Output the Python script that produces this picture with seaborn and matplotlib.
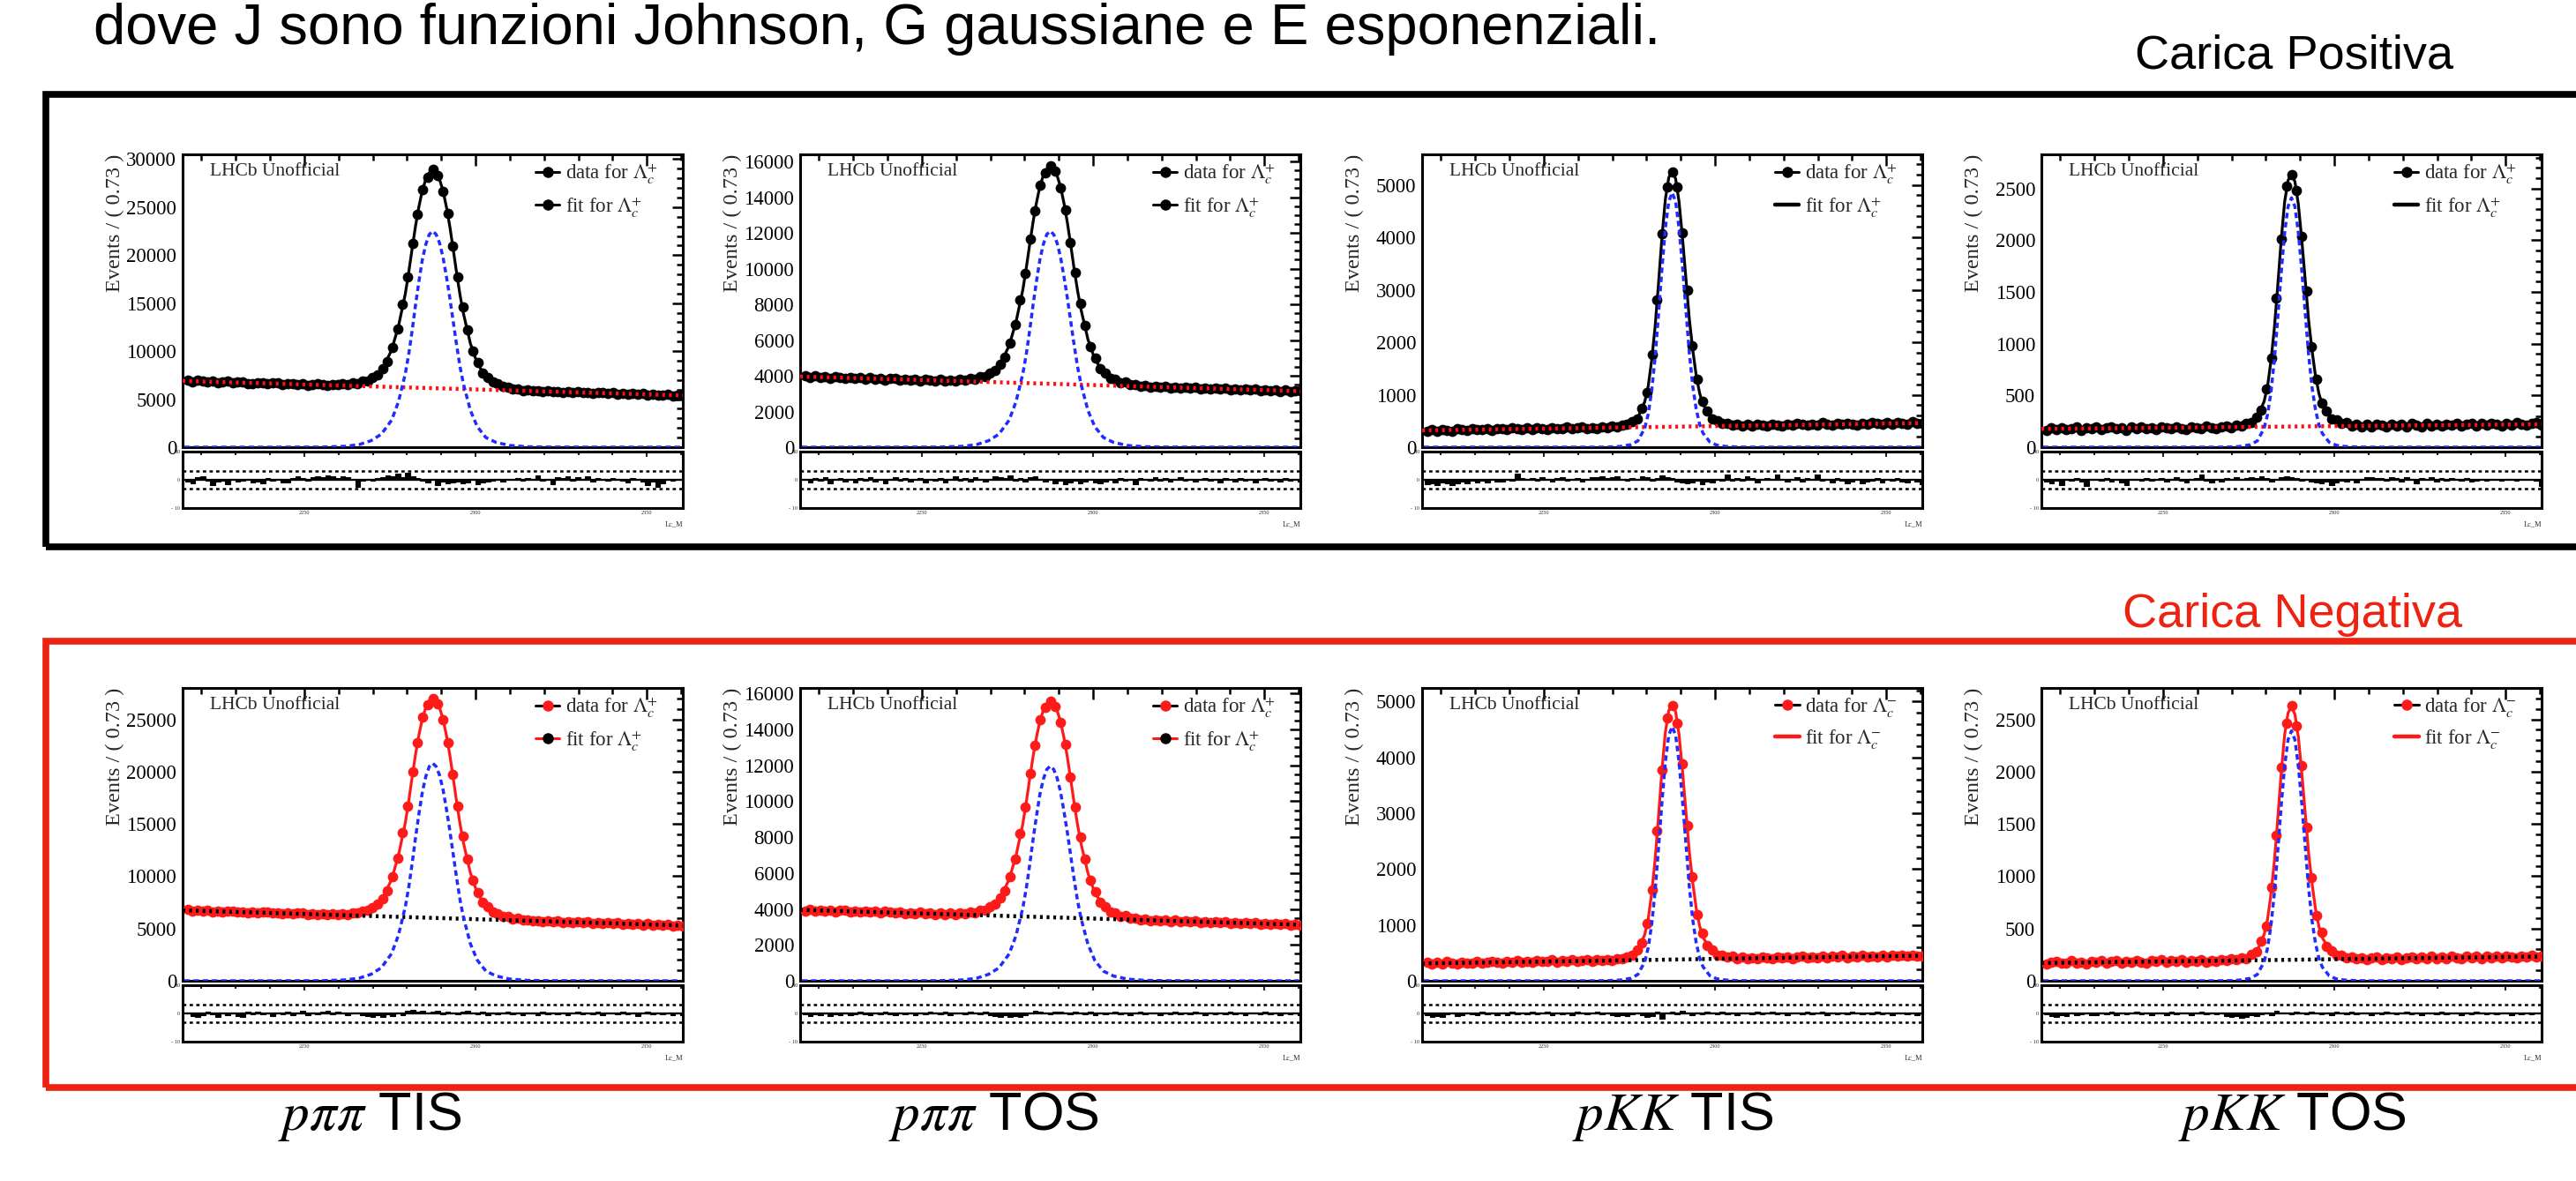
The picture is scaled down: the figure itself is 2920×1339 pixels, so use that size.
import numpy as np
import pandas as pd
import seaborn as sns
import matplotlib
matplotlib.use("Agg")
import matplotlib.pyplot as plt
from matplotlib.lines import Line2D
from matplotlib.patches import Rectangle
from matplotlib.ticker import MultipleLocator

# ---------------------------------------------------------------- data
# bins: 100 bins of 1.46 MeV, the central one centred on 2287.5
BIN_WIDTH = 1.46
FIRST_CENTER = 2215.96
N_BINS = 100
MASS_RANGE = (2214.5, 2360.5)

# x positions at which the fit curves were read
mass_curve = [2215, 2240, 2255, 2262, 2266, 2269.5, 2272.5, 2275.5, 2277.5, 2279.5,
              2280.5, 2281.5, 2282.5, 2283.5, 2284.5, 2285.5, 2286.5, 2287.5, 2288.5, 2289.5,
              2290.5, 2291.5, 2292.5, 2293.5, 2294.5, 2295.5, 2296.5, 2298.5, 2300.5, 2303,
              2306, 2310, 2315, 2322, 2335, 2360]
bkg_mass = [2214.5, 2360.5]

# ---- p pi pi TIS, positive
data_pp_tis_pos = [6950, 6830, 6990, 6880, 6770, 6900, 6720, 6810, 6880, 6700,
                   6760, 6830, 6660, 6640, 6750, 6700, 6570, 6700, 6690, 6560,
                   6600, 6640, 6520, 6650, 6460, 6530, 6580, 6500, 6450, 6560,
                   6480, 6600, 6560, 6680, 6640, 6850, 6920, 7250, 7520, 8180,
                   8950, 10400, 12300, 14900, 17700, 21250, 24250, 26850, 28150, 28900,
                   28300, 26650, 24300, 20950, 17700, 14600, 12250, 10050, 8800, 7750,
                   7300, 6780, 6620, 6320, 6260, 6060, 6090, 5920, 5980, 5850,
                   5900, 5790, 5860, 5750, 5800, 5720, 5790, 5680, 5760, 5650,
                   5720, 5620, 5700, 5650, 5560, 5660, 5540, 5610, 5520, 5590,
                   5480, 5560, 5420, 5500, 5390, 5440, 5490, 5360, 5450, 5420]
fit_pp_tis_pos = [6895, 6636, 6504, 6522, 6684, 7056, 7886, 10120, 12590, 15970,
                  18220, 20700, 23070, 25100, 26790, 27910, 28580, 28800, 28560, 27870,
                  26730, 25020, 22970, 20580, 18080, 15800, 13870, 10790, 8730, 7340,
                  6570, 6140, 5930, 5800, 5654, 5395]
sig_pp_tis_pos = [0, 0, 11, 90, 270, 675, 1350, 2810, 4730, 7650,
                  9680, 12150, 14850, 17330, 19580, 21150, 22160, 22500, 22160, 21260,
                  19800, 17780, 15530, 13050, 10580, 8330, 6530, 3830, 2140, 1010,
                  495, 180, 45, 11, 0, 0]
bkg_pp_tis_pos = [6900, 5390]
pull_pp_tis_pos = [-0.5, -1.2, 0.8, 1.2, -0.4, -1.8, -0.6, -0.3, -1.5, 0.4, -0.7, -0.2, 0.3, -0.9, -0.5, -1.1, 0.6, -0.3, 0.2, -0.8,
                   -1.0, 0.5, 1.1, 0.7, -0.4, 0.9, 1.3, 0.8, 1.5, 1.2, 0.6, 1.4, 1.0, 0.3, -2.6, -0.4, 0.2, -0.3, 0.5, 0.8,
                   1.6, 1.2, 2.1, 1.0, 2.6, 1.4, 0.7, -0.2, -0.9, 0.4, -1.8, -0.6, -1.1, -0.8, -0.5, -1.3, -0.9, 0.3, -1.6, -1.0,
                   -0.7, -0.4, 0.2, -0.6, 0.4, 0.1, 0.5, -0.3, 0.6, 0.3, 1.5, -0.4, 0.2, -1.5, 0.8, 0.5, 1.1, -0.3, 0.9, 0.4,
                   1.2, -0.5, 0.7, 0.3, -0.2, 0.6, 0.2, -0.4, -0.8, 0.5, 0.3, -0.6, -1.9, -0.5, -2.4, -1.2, 0.4, -0.3, 0.2, -0.1]

# ---- p pi pi TOS, positive
data_pp_tos_pos = [3990, 3900, 3980, 3890, 3950, 3860, 3940, 3920, 3830, 3900,
                   3850, 3910, 3800, 3880, 3790, 3850, 3760, 3840, 3830, 3750,
                   3820, 3740, 3800, 3720, 3780, 3770, 3700, 3790, 3700, 3760,
                   3720, 3780, 3740, 3830, 3800, 3930, 3960, 4140, 4280, 4640,
                   5050, 5850, 6850, 8270, 9750, 11650, 13250, 14680, 15350, 15750,
                   15450, 14530, 13300, 11480, 9760, 8060, 6820, 5620, 4990, 4400,
                   4160, 3870, 3820, 3620, 3640, 3490, 3530, 3420, 3470, 3360,
                   3420, 3350, 3400, 3310, 3380, 3300, 3360, 3290, 3350, 3270,
                   3320, 3250, 3310, 3240, 3290, 3220, 3280, 3200, 3260, 3190,
                   3240, 3170, 3230, 3150, 3200, 3130, 3190, 3120, 3180, 3150]
fit_pp_tos_pos = [3957, 3817, 3745, 3754, 3841, 4040, 4485, 5683, 7008, 8820,
                  10029, 11360, 12630, 13717, 14624, 15225, 15585, 15700, 15573, 15203,
                  14590, 13673, 12574, 11292, 9951, 8730, 7691, 6040, 4935, 4192,
                  3774, 3546, 3432, 3362, 3283, 3143]
sig_pp_tos_pos = [0, 0, 6, 48, 145, 363, 726, 1513, 2541, 4114,
                  5203, 6534, 7986, 9317, 10527, 11374, 11919, 12100, 11919, 11435,
                  10648, 9559, 8349, 7018, 5687, 4477, 3509, 2057, 1150, 545,
                  266, 97, 24, 6, 0, 0]
bkg_pp_tos_pos = [3960, 3140]
pull_pp_tos_pos = [0.4, -0.8, 0.6, -0.3, 0.9, -1.2, 0.2, 0.7, -0.5, 0.3, -0.9, 0.5, -0.2, 0.8, -0.6, 0.1, -1.4, 0.4, 0.9, -0.3,
                   0.6, -0.7, 0.2, 0.5, -1.0, 0.3, -0.4, 0.7, -0.8, 0.4, 1.1, -0.2, 0.6, -0.5, 0.9, 0.2, -0.6, 0.4, 1.3, 0.8,
                   0.5, 1.6, -0.3, 0.7, -0.5, 0.9, 1.2, 0.4, -0.7, 0.3, -1.1, -0.4, -1.6, -0.9, -0.3, -1.4, -0.6, 0.2, -0.8, -1.2,
                   -0.5, 0.3, -0.9, 0.6, -0.2, 0.4, -1.5, 0.7, 0.2, -0.4, 0.8, -0.3, 0.5, -0.7, 0.3, 0.9, -0.2, 0.4, -0.6, 0.2,
                   0.7, -0.4, 0.3, -0.8, 0.5, 0.1, -0.5, 0.6, -0.3, 0.4, -0.9, 0.2, 0.5, -0.4, 0.3, -0.7, 0.6, -0.2, 0.4, -0.5]

# ---- p K K TIS, positive
data_kk_tis_pos = [300, 335, 310, 340, 318, 305, 345, 330, 312, 350,
                   328, 340, 360, 322, 345, 358, 330, 370, 345, 338,
                   365, 340, 372, 352, 340, 378, 355, 360, 385, 350,
                   368, 392, 360, 375, 356, 390, 375, 400, 382, 418,
                   430, 490, 545, 740, 1050, 1770, 2800, 4060, 4950, 5250,
                   4950, 4080, 3000, 1930, 1290, 870, 690, 540, 510, 450,
                   460, 415, 440, 405, 430, 398, 435, 420, 400, 445,
                   425, 408, 440, 418, 450, 430, 412, 445, 425, 470,
                   440, 420, 455, 430, 462, 445, 425, 460, 440, 472,
                   450, 432, 468, 445, 470, 455, 440, 480, 462, 450]
fit_kk_tis_pos = [320, 344, 359, 366, 371, 383, 405, 466, 565, 869,
                  1162, 1650, 2284, 3113, 3991, 4722, 5137, 5260, 5115, 4678,
                  3997, 3219, 2440, 1857, 1371, 1031, 813, 596, 499, 449,
                  427, 419, 418, 423, 436, 460]
sig_kk_tis_pos = [0, 0, 0, 0, 0, 5, 15, 49, 121, 364,
                  631, 1067, 1698, 2522, 3395, 4171, 4680, 4850, 4680, 4171,
                  3444, 2619, 1795, 1164, 728, 437, 267, 97, 39, 15,
                  5, 0, 0, 0, 0, 0]
bkg_kk_tis_pos = [320, 460]
pull_kk_tis_pos = [-1.5, -1.2, -1.8, -0.9, -1.4, -2.0, -1.1, -0.6, -1.3, -0.4, -0.8, -0.3, -1.0, 0.2, -0.5, -0.7, 0.3, -0.2, 2.1, 0.5,
                   0.3, 0.6, -0.4, 0.8, 0.2, -0.6, 0.5, 0.9, -0.3, 0.4, 0.7, -0.5, 0.2, 1.0, 0.8, 1.1, 0.6, 0.9, 1.2, 0.4,
                   -0.3, 0.5, 0.2, 1.3, 0.8, -0.4, 0.6, 1.5, 0.9, 0.5, -0.6, -1.0, -1.4, -0.8, -0.3, -1.7, -0.5, -0.9, 0.2, -0.4,
                   1.8, -0.3, 0.6, -0.2, 1.2, 0.5, -0.8, 0.3, 0.7, 0.2, 1.9, 0.4, -0.5, 0.3, 0.8, -0.6, 0.5, 0.2, 1.8, -0.3,
                   0.4, -0.9, 0.6, -0.4, -1.1, -0.7, 0.3, -1.3, -0.5, -0.2, 0.5, -0.8, 0.2, -0.4, 0.6, -0.6, -1.0, 0.3, -0.5, -1.6]

# ---- p K K TOS, positive
data_kk_tos_pos = [165, 185, 172, 190, 168, 182, 195, 160, 188, 178,
                   192, 170, 185, 198, 176, 188, 164, 192, 180, 197,
                   178, 190, 172, 200, 185, 176, 195, 182, 170, 198,
                   188, 180, 205, 185, 175, 200, 206, 188, 212, 205,
                   230, 240, 290, 360, 560, 860, 1440, 2010, 2520, 2630,
                   2480, 2040, 1510, 970, 660, 430, 350, 270, 262, 226,
                   238, 205, 225, 200, 218, 195, 222, 212, 198, 225,
                   205, 220, 196, 228, 210, 200, 226, 208, 220, 202,
                   225, 210, 228, 205, 222, 230, 208, 226, 215, 232,
                   218, 208, 230, 216, 235, 220, 212, 228, 238, 210]
fit_kk_tos_pos = [177, 185, 189, 192, 194, 199, 210, 240, 289, 441,
                  587, 832, 1150, 1564, 2005, 2371, 2578, 2640, 2567, 2347,
                  2006, 1616, 1226, 933, 690, 519, 409, 301, 253, 226,
                  215, 210, 209, 210, 214, 222]
sig_kk_tos_pos = [0, 0, 0, 0, 0, 2, 7, 24, 60, 181,
                  313, 530, 844, 1253, 1687, 2073, 2326, 2410, 2326, 2073,
                  1711, 1301, 892, 578, 362, 217, 133, 48, 19, 7,
                  2, 0, 0, 0, 0, 0]
bkg_kk_tos_pos = [177, 222]
pull_kk_tos_pos = [-0.6, -1.1, -0.4, -1.8, 0.3, -0.2, 0.5, -0.7, -2.1, 0.4, 0.2, -0.3, 0.6, -0.5, 0.3, -0.8, -1.9, 0.2, 0.4, -0.3,
                   0.7, -0.4, 0.2, 0.5, -0.6, 0.3, 0.8, -0.2, -0.9, 0.4, 0.6, 2.0, -0.3, -1.0, 0.2, -0.5, 0.6, 0.3, 0.9, 0.4,
                   0.7, 0.8, 0.5, 1.2, 0.6, -0.5, 0.3, 0.8, 1.4, 0.9, 0.6, -0.4, 0.3, -0.6, -0.8, -1.2, -0.5, -1.8, -0.9, -0.3,
                   -0.6, 0.4, -0.8, 0.2, 0.9, 1.0, 0.5, 0.7, -0.3, 0.8, 0.6, -0.5, 0.9, 0.4, -1.2, 0.7, 0.3, 0.8, -0.6, 0.5,
                   -0.4, 0.6, 0.2, -0.3, 0.5, -0.5, -0.2, 0.3, -0.4, 0.4, 0.1, -0.3, 0.2, 0.3, -0.2, 0.2, -0.1, 0.1, -0.3, -2.2]

# ---- p pi pi TIS, negative
data_pp_tis_neg = [6800, 6690, 6760, 6650, 6720, 6600, 6690, 6580, 6650, 6700,
                   6560, 6620, 6520, 6600, 6490, 6560, 6620, 6460, 6530, 6440,
                   6500, 6390, 6470, 6520, 6360, 6430, 6350, 6400, 6300, 6390,
                   6330, 6400, 6350, 6480, 6470, 6650, 6730, 7030, 7300, 7880,
                   8600, 9980, 11700, 14150, 16700, 19980, 22750, 25200, 26400, 27000,
                   26500, 24980, 22800, 19700, 16700, 13820, 11640, 9600, 8460, 7490,
                   7060, 6580, 6450, 6160, 6120, 5920, 5950, 5780, 5860, 5720,
                   5770, 5660, 5730, 5610, 5700, 5580, 5670, 5560, 5640, 5530,
                   5610, 5500, 5590, 5470, 5550, 5440, 5530, 5410, 5500, 5380,
                   5470, 5350, 5440, 5330, 5410, 5290, 5380, 5270, 5350, 5260]
fit_pp_tis_neg = [6735, 6487, 6359, 6373, 6522, 6864, 7631, 9696, 11980, 15103,
                  17188, 19483, 21673, 23548, 25110, 26147, 26766, 26965, 26746, 26107,
                  25050, 23468, 21573, 19363, 17050, 14945, 13154, 10306, 8400, 7118,
                  6397, 6002, 5805, 5682, 5543, 5295]
sig_pp_tis_neg = [0, 0, 10, 83, 250, 624, 1248, 2600, 4368, 7072,
                  8944, 11232, 13728, 16016, 18096, 19552, 20488, 20800, 20488, 19656,
                  18304, 16432, 14352, 12064, 9776, 7696, 6032, 3536, 1976, 936,
                  458, 166, 42, 10, 0, 0]
bkg_pp_tis_neg = [6740, 5290]
pull_pp_tis_neg = [0.3, -0.9, -1.4, -0.5, 0.6, -0.3, -1.1, 0.4, -0.6, 0.2, -0.8, -1.2, 0.5, -0.3, 0.7, -0.4, 0.2, -0.9, 0.4, -0.2,
                   0.6, -0.5, 0.3, 0.8, -0.6, 0.2, -0.3, 0.5, 0.9, -0.4, 0.6, 0.3, -0.7, 0.4, 0.2, -0.5, -0.9, -1.3, -0.6, -1.1,
                   -0.4, -0.8, 0.3, -0.5, 0.9, 1.2, 0.6, 1.0, 0.4, 0.7, 0.9, -0.3, 0.5, 0.2, -0.4, 0.6, 0.8, 0.3, -0.2, 0.5,
                   -0.6, 0.3, -0.4, 0.2, 0.6, -0.3, 0.4, -0.5, 0.2, 0.3, -0.6, 0.5, -0.2, 0.4, -0.3, 0.2, -0.5, 0.3, 0.6, -0.4,
                   0.2, -0.3, 0.5, -0.6, 0.3, 0.1, -0.4, 0.6, -0.2, 0.3, -0.8, 0.2, 0.5, -0.3, 0.4, -0.2, 0.3, -0.5, 0.2, -0.6]

# ---- p pi pi TOS, negative
data_pp_tos_neg = [3900, 3960, 3880, 3940, 3870, 3930, 3850, 3910, 3950, 3840,
                   3880, 3830, 3900, 3810, 3870, 3790, 3860, 3820, 3770, 3840,
                   3750, 3800, 3740, 3810, 3730, 3780, 3700, 3760, 3690, 3770,
                   3700, 3760, 3720, 3810, 3790, 3910, 3940, 4120, 4250, 4610,
                   5000, 5810, 6780, 8200, 9650, 11550, 13100, 14530, 15200, 15580,
                   15290, 14380, 13170, 11360, 9670, 7990, 6770, 5580, 4950, 4370,
                   4140, 3850, 3800, 3600, 3620, 3470, 3510, 3390, 3450, 3350,
                   3400, 3330, 3380, 3290, 3370, 3280, 3340, 3270, 3330, 3250,
                   3310, 3230, 3290, 3220, 3280, 3200, 3260, 3180, 3250, 3170,
                   3230, 3150, 3210, 3140, 3200, 3120, 3180, 3100, 3160, 3110]
fit_pp_tos_neg = [3947, 3805, 3732, 3740, 3825, 4021, 4460, 5643, 6952, 8740,
                  9935, 11249, 12503, 13578, 14472, 15066, 15421, 15535, 15409, 15044,
                  14438, 13532, 12447, 11181, 9855, 8650, 7624, 5993, 4901, 4167,
                  3754, 3527, 3415, 3345, 3265, 3123]
sig_pp_tos_neg = [0, 0, 6, 48, 143, 359, 717, 1494, 2510, 4063,
                  5139, 6453, 7887, 9202, 10397, 11233, 11771, 11950, 11771, 11293,
                  10516, 9441, 8246, 6931, 5617, 4422, 3466, 2032, 1135, 538,
                  263, 96, 24, 6, 0, 0]
bkg_pp_tos_neg = [3950, 3120]
pull_pp_tos_neg = [-0.4, -0.8, -0.3, -0.6, 0.2, -0.9, -0.2, -0.5, 0.3, -0.7, -0.4, 0.5, -0.3, -0.6, 0.2, -0.4, 0.6, -0.2, -0.5, 0.3,
                   -0.3, 0.4, -0.6, 0.2, -0.4, 0.5, 0.3, -0.2, 0.6, -0.5, 0.2, 0.4, -0.3, 0.7, 0.3, -0.4, 0.5, -0.6, -0.9, -1.2,
                   -0.7, -1.4, -0.9, -1.1, -0.5, 0.4, 0.8, 0.6, 0.3, -0.2, 0.5, 0.7, 0.3, -0.4, 0.6, 0.2, -0.3, 0.5, -0.6, 0.3,
                   -0.2, 0.4, 0.6, -0.3, 0.2, -0.5, 0.3, 0.5, -0.4, 0.2, 0.4, -0.6, 0.3, -0.2, 0.5, -0.3, 0.2, -0.4, 0.6, 0.3,
                   -0.5, 0.2, -0.3, 0.4, -0.2, 0.5, -0.4, 0.3, -0.6, 0.2, 0.4, -0.3, 0.5, -0.2, 0.3, -0.5, 0.2, -0.4, 0.3, -0.6]

# ---- p K K TIS, negative
data_kk_tis_neg = [330, 305, 325, 298, 340, 315, 300, 338, 322, 310,
                   345, 318, 335, 352, 325, 310, 348, 335, 360, 330,
                   345, 325, 362, 340, 355, 372, 338, 360, 350, 378,
                   345, 368, 380, 352, 372, 360, 385, 360, 395, 392,
                   430, 450, 545, 680, 1030, 1630, 2690, 3780, 4700, 4930,
                   4610, 3880, 2780, 1870, 1190, 860, 625, 550, 465, 462,
                   420, 438, 398, 425, 392, 418, 395, 422, 410, 395,
                   428, 405, 432, 400, 425, 440, 405, 430, 418, 445,
                   410, 438, 420, 450, 415, 442, 428, 455, 420, 448,
                   430, 458, 425, 450, 438, 462, 435, 455, 440, 445]
fit_kk_tis_neg = [310, 334, 349, 356, 361, 372, 393, 450, 544, 829,
                  1104, 1562, 2157, 2935, 3759, 4445, 4835, 4950, 4814, 4404,
                  3765, 3035, 2304, 1757, 1301, 982, 777, 574, 483, 436,
                  416, 409, 408, 413, 426, 450]
sig_kk_tis_neg = [0, 0, 0, 0, 0, 5, 14, 46, 114, 341,
                  592, 1001, 1593, 2366, 3185, 3913, 4391, 4550, 4391, 3913,
                  3231, 2457, 1684, 1092, 683, 410, 250, 91, 36, 14,
                  5, 0, 0, 0, 0, 0]
bkg_kk_tis_neg = [310, 450]
pull_kk_tis_neg = [-0.5, -1.3, -0.8, -1.1, -0.4, 0.3, -0.9, -0.6, 0.2, -0.4, -0.7, 0.5, -0.3, 0.4, -0.6, 0.2, -0.5, 0.6, -0.2, 0.3,
                   -0.4, 0.5, -0.3, 0.2, 0.6, -0.5, 0.3, -0.2, 0.4, -0.6, 0.5, 0.3, -0.4, 0.2, 0.6, -0.3, 0.4, -0.7, -1.0, -0.5,
                   -0.8, -0.3, 0.4, -0.6, -1.4, -0.9, 0.5, -1.8, 0.3, 0.6, -0.4, 0.8, 0.2, -0.5, 0.4, -0.3, 0.6, 0.2, -0.4, 0.5,
                   -0.2, 0.3, -0.5, 0.4, 0.2, -0.3, 0.6, -0.4, 0.3, 0.5, -0.2, 0.4, -0.6, 0.2, 0.3, -0.4, 0.5, -0.3, 0.2, 0.6,
                   -0.5, 0.3, -0.2, 0.4, -0.3, 0.5, 0.2, -0.4, 0.3, -0.2, 0.5, -0.3, 0.4, -0.5, 0.2, 0.3, -0.4, 0.2, -0.6, 0.4]

# ---- p K K TOS, negative
data_kk_tos_neg = [160, 178, 185, 165, 172, 190, 168, 180, 162, 188,
                   175, 192, 170, 183, 198, 172, 186, 176, 195, 180,
                   170, 192, 185, 200, 176, 190, 182, 205, 178, 195,
                   186, 200, 180, 196, 188, 206, 190, 208, 200, 218,
                   215, 252, 275, 378, 520, 895, 1390, 2040, 2460, 2630,
                   2440, 2060, 1470, 990, 625, 460, 325, 290, 245, 244,
                   220, 230, 208, 222, 205, 218, 226, 205, 222, 210,
                   228, 206, 220, 230, 210, 225, 212, 232, 215, 228,
                   210, 235, 222, 212, 238, 220, 232, 215, 240, 222,
                   235, 218, 240, 225, 216, 238, 228, 245, 226, 240]
fit_kk_tos_neg = [170, 181, 187, 190, 193, 198, 210, 240, 289, 440,
                  585, 827, 1143, 1554, 1991, 2354, 2561, 2621, 2548, 2332,
                  1993, 1607, 1219, 930, 688, 519, 411, 303, 255, 230,
                  219, 215, 214, 216, 221, 232]
sig_kk_tos_neg = [0, 0, 0, 0, 0, 2, 7, 24, 60, 179,
                  311, 526, 837, 1243, 1673, 2055, 2306, 2390, 2306, 2055,
                  1697, 1291, 884, 574, 359, 215, 131, 48, 19, 7,
                  2, 0, 0, 0, 0, 0]
bkg_kk_tos_neg = [170, 232]
pull_kk_tos_neg = [-0.3, -0.8, -1.2, -0.5, -0.9, 0.3, -0.6, -0.4, 0.2, -0.7, -0.5, 0.4, -0.3, 0.5, -0.6, 0.2, -0.4, 0.3, 0.6, -0.2,
                   0.4, -0.5, 0.3, 0.2, -0.6, 0.5, -0.3, 0.4, 0.2, -0.5, 0.3, 0.6, -0.2, 0.4, -0.4, 0.3, -0.9, -1.3, -0.8, -1.6,
                   -1.1, -0.5, -0.9, -0.4, 0.3, -0.6, 0.8, 0.4, 0.2, -0.3, 0.6, 0.3, -0.4, 0.5, 0.2, -0.3, 0.4, -0.5, 0.6, 0.3,
                   -0.2, 0.5, -0.4, 0.3, 0.2, -0.5, 0.4, -0.3, 0.6, 0.2, -0.4, 0.3, 0.5, -0.2, 0.4, -0.6, 0.3, 0.2, -0.4, 0.5,
                   -0.3, 0.2, 0.4, -0.5, 0.3, -0.2, 0.5, 0.2, -0.4, 0.3, -0.3, 0.4, 0.2, -0.5, 0.3, -0.2, 0.4, -0.3, 0.2, 0.3]

# axis settings per panel: (ymax, major step, minor step)
yaxis_settings = [(30500, 5000, 1000), (16400, 2000, 500), (5580, 1000, 200), (2830, 500, 100),
                  (28000, 5000, 1000), (16300, 2000, 500), (5240, 1000, 200), (2800, 500, 100)]
legend_charges = ['+', '+', '+', '+', '+', '+', '-', '-']
bottom_labels = [r'$p\pi\pi$ TIS', r'$p\pi\pi$ TOS', r'$pKK$ TIS', r'$pKK$ TOS']
slide_line = 'dove J sono funzioni Johnson, G gaussiane e E esponenziali.'

# ---------------------------------------------------------------- style
sns.set_theme(style="white")
plt.rcParams['font.family'] = ['Liberation Sans', 'DejaVu Sans']
plt.rcParams['mathtext.fontset'] = 'stix'
SERIF = 'Liberation Serif'
RED = '#ee2211'
DATA_RED = '#ff1a1a'
BLUE = '#1f2bff'

W, H = 2920, 1339
fig = plt.figure(figsize=(W / 100, H / 100), dpi=100)
fig.patch.set_facecolor('white')


def fx(px):
    return px / W


def fy(py):
    return 1 - py / H


COL_LEFT = [207, 907, 1612, 2314]
AX_W = 567
ROW_TOP = [175, 780]
MAIN_H = 332
PULL_GAP = 5
PULL_H = 64

bin_centers = FIRST_CENTER + BIN_WIDTH * np.arange(N_BINS)

panels = [
    (data_pp_tis_pos, fit_pp_tis_pos, sig_pp_tis_pos, bkg_pp_tis_pos, pull_pp_tis_pos),
    (data_pp_tos_pos, fit_pp_tos_pos, sig_pp_tos_pos, bkg_pp_tos_pos, pull_pp_tos_pos),
    (data_kk_tis_pos, fit_kk_tis_pos, sig_kk_tis_pos, bkg_kk_tis_pos, pull_kk_tis_pos),
    (data_kk_tos_pos, fit_kk_tos_pos, sig_kk_tos_pos, bkg_kk_tos_pos, pull_kk_tos_pos),
    (data_pp_tis_neg, fit_pp_tis_neg, sig_pp_tis_neg, bkg_pp_tis_neg, pull_pp_tis_neg),
    (data_pp_tos_neg, fit_pp_tos_neg, sig_pp_tos_neg, bkg_pp_tos_neg, pull_pp_tos_neg),
    (data_kk_tis_neg, fit_kk_tis_neg, sig_kk_tis_neg, bkg_kk_tis_neg, pull_kk_tis_neg),
    (data_kk_tos_neg, fit_kk_tos_neg, sig_kk_tos_neg, bkg_kk_tos_neg, pull_kk_tos_neg),
]

for i, (d, f, s, b, p) in enumerate(panels):
    for name, arr, n in (("data", d, N_BINS), ("pull", p, N_BINS), ("fit", f, len(mass_curve)), ("sig", s, len(mass_curve))):
        if len(arr) != n:
            raise ValueError(f"panel {i} {name} has {len(arr)} entries, expected {n}")

for i, (data, fit, sig, bkg, pull) in enumerate(panels):
    row, col = divmod(i, 4)
    negative = row == 1
    left = COL_LEFT[col]
    top = ROW_TOP[row]
    ymax, ymaj, ymin = yaxis_settings[i]

    ax = fig.add_axes([fx(left), fy(top + MAIN_H), AX_W / W, MAIN_H / H])
    axp = fig.add_axes([fx(left), fy(top + MAIN_H + PULL_GAP + PULL_H), AX_W / W, PULL_H / H])

    dcol = DATA_RED if negative else 'black'
    fcol = DATA_RED if negative else 'black'
    bcol = 'black' if negative else '#ff1010'

    df = pd.DataFrame({'mass': bin_centers, 'events': data})
    sns.scatterplot(data=df, x='mass', y='events', ax=ax, s=72, color=dcol,
                    edgecolor=dcol, linewidth=0, zorder=3, legend=False)
    cf = pd.DataFrame({'mass': mass_curve, 'fit': fit, 'sig': sig})
    sns.lineplot(data=cf, x='mass', y='fit', ax=ax, color=fcol, linewidth=2.3,
                 estimator=None, zorder=4, legend=False)
    sns.lineplot(x=bkg_mass, y=bkg, ax=ax, color=bcol, linewidth=3.2,
                 linestyle=(0, (0.7, 1.0)), estimator=None, zorder=5, legend=False)
    sns.lineplot(data=cf, x='mass', y='sig', ax=ax, color=BLUE, linewidth=2.5,
                 linestyle=(0, (1.8, 1.2)), estimator=None, zorder=5, legend=False)

    ax.set_xlim(*MASS_RANGE)
    ax.set_ylim(0, ymax)
    ax.set_xlabel('')
    ax.set_ylabel('')
    ax.set_xticks([2250, 2300, 2350])
    ax.xaxis.set_minor_locator(MultipleLocator(10))
    ax.set_xticklabels([])
    yt = list(range(0, int(ymax) + 1, ymaj))
    ax.set_yticks(yt)
    ax.set_yticklabels([str(v) for v in yt], fontfamily=SERIF, fontsize=16.5)
    ax.yaxis.set_minor_locator(MultipleLocator(ymin))
    ax.set_ylim(0, ymax)
    ax.tick_params(which='both', direction='in', top=True, right=True, width=1.8,
                   colors='black', pad=5)
    ax.tick_params(which='major', length=9)
    ax.tick_params(which='minor', length=5)
    for sp in ax.spines.values():
        sp.set_linewidth(2.2)
        sp.set_color('black')

    ax.text(31 / AX_W, 1 - 10 / MAIN_H, 'LHCb Unofficial', transform=ax.transAxes,
            ha='left', va='top', fontsize=15.5, fontfamily=SERIF)
    ax.text(-77 / AX_W, 1.0, 'Events / ( 0.73 )', transform=ax.transAxes, rotation=90,
            ha='center', va='top', fontsize=17.5, fontfamily=SERIF)

    ch = legend_charges[i]
    lab_d = 'data for $\\Lambda_{c}^{%s}$' % ch
    lab_f = 'fit for $\\Lambda_{c}^{%s}$' % ch
    if not negative:
        h_d = Line2D([], [], color='black', lw=2.2, marker='o', ms=8, mfc='black', mec='black')
        if col < 2:
            h_f = Line2D([], [], color='black', lw=2.2, marker='o', ms=8, mfc='black', mec='black')
        else:
            h_f = Line2D([], [], color='black', lw=3.2)
    else:
        h_d = Line2D([], [], color='black', lw=2.2, marker='o', ms=8, mfc=DATA_RED, mec=DATA_RED)
        if col < 2:
            h_f = Line2D([], [], color=DATA_RED, lw=2.2, marker='o', ms=8, mfc='black', mec='black')
        else:
            h_f = Line2D([], [], color=DATA_RED, lw=3.2)
    ax.legend([h_d, h_f], [lab_d, lab_f], loc='upper right',
              bbox_to_anchor=(1 - 28 / AX_W, 1 - 9 / MAIN_H), frameon=False,
              prop={'family': SERIF, 'size': 16.5}, handlelength=1.2, handletextpad=0.3,
              labelspacing=0.45, borderaxespad=0, borderpad=0)

    # pull panel
    axp.bar(bin_centers, pull, width=BIN_WIDTH, color='black', edgecolor='black',
            linewidth=0.8, zorder=3)
    axp.axhline(0, color='black', lw=1.6, zorder=2)
    for lvl in (3, -3):
        axp.axhline(lvl, color='black', lw=1.8, linestyle=(0, (1.5, 1.5)), zorder=2)
    axp.set_xlim(*MASS_RANGE)
    axp.set_ylim(-10, 10)
    axp.set_xticks([2250, 2300, 2350])
    axp.set_xticklabels(['2250', '2300', '2350'], fontfamily=SERIF, fontsize=4.5)
    axp.xaxis.set_minor_locator(MultipleLocator(10))
    axp.set_yticks([-10, 0, 10])
    axp.set_yticklabels(['- 10', '0', '10'], fontfamily=SERIF, fontsize=4.5)
    axp.tick_params(which='both', direction='in', top=True, right=False, width=1.5, pad=2)
    axp.tick_params(axis='x', which='major', length=4.5)
    axp.tick_params(axis='x', which='minor', length=2.8)
    axp.tick_params(axis='y', which='both', length=0)
    for sp in axp.spines.values():
        sp.set_linewidth(2.2)
        sp.set_color('black')
    axp.text(1.0, -0.22, 'Lc_M', transform=axp.transAxes, ha='right', va='top',
             fontsize=6, fontfamily=SERIF)
    axp.set_xlabel('')
    axp.set_ylabel('')

# ---------------------------------------------------------------- slide decorations
fig.add_artist(Rectangle((fx(52), fy(620)), (2990 - 52) / W, (620 - 107) / H,
                         transform=fig.transFigure, fill=False, edgecolor='black',
                         linewidth=5.5, clip_on=False))
fig.add_artist(Rectangle((fx(52), fy(1233)), (2990 - 52) / W, (1233 - 727) / H,
                         transform=fig.transFigure, fill=False, edgecolor=RED,
                         linewidth=5.5, clip_on=False))

fig.text(fx(106), fy(50), slide_line, ha='left', va='baseline', fontsize=47, color='black')
fig.text(fx(2420), fy(78), 'Carica Positiva', ha='left', va='baseline', fontsize=39, color='black')
fig.text(fx(2406), fy(711), 'Carica Negativa', ha='left', va='baseline', fontsize=39, color=RED)

for xc, lab in zip([419, 1126, 1896, 2598], bottom_labels):
    fig.text(fx(xc), fy(1281), lab, ha='center', va='baseline', fontsize=44, color='black')

fig.savefig('out.png', dpi=100, facecolor='white')
